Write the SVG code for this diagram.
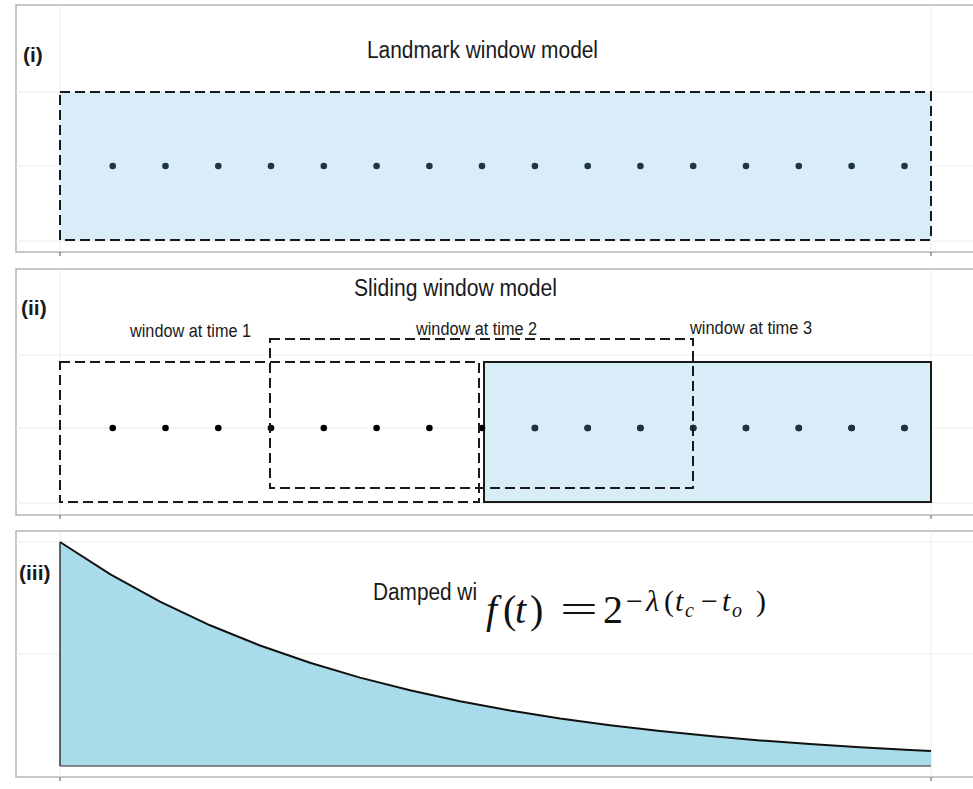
<svg xmlns="http://www.w3.org/2000/svg" width="973" height="789" viewBox="0 0 973 789">
<defs>
<style>
.panel{fill:#ffffff;stroke:#b5b5b5;stroke-width:1.5}
.grid{stroke:#ececec;stroke-width:1;fill:none}
.tick{stroke:#555;stroke-width:1}
.dash{fill:none;stroke:#1a1a1a;stroke-width:2;stroke-dasharray:10 5}
.solid{stroke:#1a1a1a;stroke-width:2}
.blue{fill:#d9edf8}
.title{font-family:"Liberation Sans",Arial,sans-serif;font-size:23px;fill:#1a1a1a}
.lab{font-family:"Liberation Sans",Arial,sans-serif;font-size:18px;fill:#1a1a1a}
.tag{font-family:"Liberation Sans",Arial,sans-serif;font-size:21px;font-weight:bold;fill:#1a1a1a}
.dk{fill:#1e3442}
.bk{fill:#000}
.math{font-family:"Liberation Serif","Times New Roman",serif;fill:#111}
</style>
<g id="dotrow">
<circle cx="112.7" r="3.3"/><circle cx="165.5" r="3.3"/><circle cx="218.3" r="3.3"/><circle cx="271" r="3.3"/>
<circle cx="323.8" r="3.3"/><circle cx="376.6" r="3.3"/><circle cx="429.4" r="3.3"/><circle cx="482" r="3.3"/>
<circle cx="534.9" r="3.3"/><circle cx="587.7" r="3.3"/><circle cx="640.4" r="3.3"/><circle cx="693.2" r="3.3"/>
<circle cx="746" r="3.3"/><circle cx="798.8" r="3.3"/><circle cx="851.6" r="3.3"/><circle cx="904.5" r="3.3"/>
</g>
</defs>
<rect width="973" height="789" fill="#ffffff"/>

<g id="panel-landmark">
<rect class="panel" x="16" y="5" width="980" height="247"/>
<line class="grid" x1="16" y1="92" x2="973" y2="92"/>
<line class="grid" x1="16" y1="166" x2="973" y2="166"/>
<line class="grid" x1="16" y1="241" x2="973" y2="241"/>
<line class="grid" x1="60" y1="5" x2="60" y2="252"/>
<line class="grid" x1="931" y1="5" x2="931" y2="252"/>
<line class="tick" x1="60" y1="252" x2="60" y2="256"/>
<line class="tick" x1="931" y1="252" x2="931" y2="256"/>
<text class="tag" x="23" y="62">(i)</text>
<text class="title" x="367" y="58" textLength="231" lengthAdjust="spacingAndGlyphs">Landmark window model</text>
<rect class="blue dash" x="60" y="92" width="871" height="148"/>
<use href="#dotrow" y="166" class="dk"/>
</g>

<g id="panel-sliding">
<rect class="panel" x="16" y="269" width="980" height="246"/>
<line class="grid" x1="16" y1="355" x2="973" y2="355"/>
<line class="grid" x1="16" y1="428" x2="973" y2="428"/>
<line class="grid" x1="16" y1="503" x2="973" y2="503"/>
<line class="grid" x1="60" y1="269" x2="60" y2="515"/>
<line class="grid" x1="931" y1="269" x2="931" y2="515"/>
<line class="tick" x1="60" y1="515" x2="60" y2="519"/>
<line class="tick" x1="931" y1="515" x2="931" y2="519"/>
<text class="tag" x="21" y="315">(ii)</text>
<text class="title" x="354" y="296" textLength="203" lengthAdjust="spacingAndGlyphs">Sliding window model</text>
<g id="window3">
<rect class="blue solid" x="484" y="362" width="447" height="140"/>
<text class="lab" x="690" y="334" textLength="122" lengthAdjust="spacingAndGlyphs">window at time 3</text>
</g>
<g id="dots2">
<use href="#dotrow" y="428" class="bk"/>
<circle class="dk" cx="534.9" cy="428" r="3.3"/><circle class="dk" cx="587.7" cy="428" r="3.3"/><circle class="dk" cx="640.4" cy="428" r="3.3"/><circle class="dk" cx="693.2" cy="428" r="3.3"/>
<circle class="dk" cx="746" cy="428" r="3.3"/><circle class="dk" cx="798.8" cy="428" r="3.3"/><circle class="dk" cx="851.6" cy="428" r="3.3"/><circle class="dk" cx="904.5" cy="428" r="3.3"/>
</g>
<g id="window1">
<rect class="dash" x="60" y="362" width="419" height="140"/>
<text class="lab" x="130" y="337" textLength="121" lengthAdjust="spacingAndGlyphs">window at time 1</text>
</g>
<g id="window2">
<rect class="dash" x="270" y="339" width="423" height="149"/>
<text class="lab" x="416" y="335" textLength="121" lengthAdjust="spacingAndGlyphs">window at time 2</text>
</g>
</g>

<g id="panel-damped">
<rect class="panel" x="16" y="531" width="980" height="246"/>
<line class="grid" x1="16" y1="542" x2="973" y2="542"/>
<line class="grid" x1="16" y1="654" x2="973" y2="654"/>
<line class="grid" x1="60" y1="531" x2="60" y2="777"/>
<line class="grid" x1="931" y1="531" x2="931" y2="777"/>
<line class="tick" x1="60" y1="777" x2="60" y2="781"/>
<line class="tick" x1="931" y1="777" x2="931" y2="781"/>
<text class="tag" x="19" y="580">(iii)</text>
<path fill="#a9dcea" stroke="none" d="M60,766 L60,542 L110,574.2 L160,601.7 L210,625.3 L260,645.5 L310,662.8 L360,677.6 L410,690.3 L460,701.2 L510,710.5 L560,718.5 L610,725.3 L660,731.1 L710,736.1 L760,740.4 L810,744.1 L860,747.2 L910,749.9 L931,750.9 L931,766 Z"/>
<path fill="none" stroke="#111" stroke-width="2" d="M60,542 L110,574.2 L160,601.7 L210,625.3 L260,645.5 L310,662.8 L360,677.6 L410,690.3 L460,701.2 L510,710.5 L560,718.5 L610,725.3 L660,731.1 L710,736.1 L760,740.4 L810,744.1 L860,747.2 L910,749.9 L931,750.9"/>
<line x1="60" y1="542" x2="60" y2="766" stroke="#333" stroke-width="1.5"/>
<line x1="60" y1="766" x2="931" y2="766" stroke="#666" stroke-width="1.5"/>
<text class="title" x="373" y="600" textLength="104" lengthAdjust="spacingAndGlyphs">Damped wi</text>
<g id="formula">
<text class="math" font-size="40" y="623"><tspan x="486" font-style="italic">f</tspan><tspan x="503">(</tspan><tspan x="515" font-style="italic">t</tspan><tspan x="530">)</tspan><tspan x="603">2</tspan></text>
<text class="math" font-size="40" x="560" y="623" textLength="38" lengthAdjust="spacingAndGlyphs">=</text>
<text class="math" font-size="30" y="611"><tspan x="626">−</tspan><tspan x="646" font-style="italic">λ</tspan><tspan x="664">(</tspan><tspan x="675" font-style="italic">t</tspan><tspan x="701">−</tspan><tspan x="722" font-style="italic">t</tspan><tspan x="756">)</tspan></text>
<text class="math" font-size="20" y="617" font-style="italic"><tspan x="685">c</tspan><tspan x="732">o</tspan></text>
</g>
</g>
</svg>
